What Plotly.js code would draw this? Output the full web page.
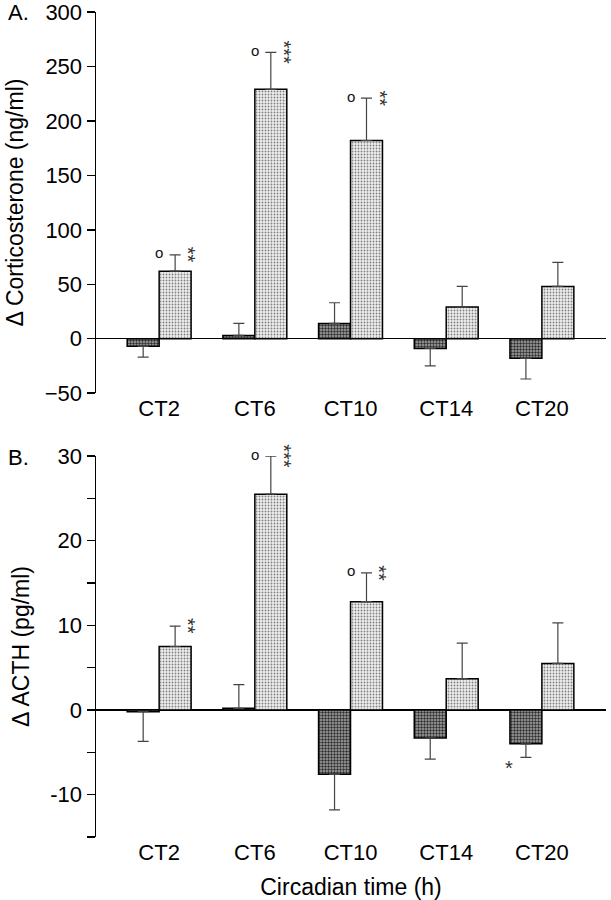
<!DOCTYPE html>
<html><head><meta charset="utf-8">
<script src="https://cdn.plot.ly/plotly-3.0.1.min.js"></script>
<style>body{margin:0;background:#fff}#chart{width:611px;height:900px}</style>
</head><body><div id="chart"></div>
<script>
// ---- data ----
const categories = ['CT2', 'CT6', 'CT10', 'CT14', 'CT20'];
const cortControl = [-7, 3, 14, -9, -18];
const cortControlSE = [10, 11, 19, 16, 19];
const cortTreated = [62, 229, 182, 29, 48];
const cortTreatedSE = [15, 34, 39, 19, 22];
const acthControl = [-0.2, 0.2, -7.6, -3.3, -4];
const acthControlSE = [3.5, 2.8, 4.2, 2.5, 1.6];
const acthTreated = [7.5, 25.5, 12.8, 3.7, 5.5];
const acthTreatedSE = [2.4, 4.5, 3.4, 4.2, 4.8];
const cortCircle = [true, true, true, false, false];
const cortStars = ['**', '***', '**', '', ''];
const acthCircle = [false, true, true, false, false];
const acthStars = ['**', '***', '**', '', ''];
const acthControlStars = ['', '', '', '', '*'];
const yTicksA = [-50, 0, 50, 100, 150, 200, 250, 300];
const yTicksB = [-15, -10, -5, 0, 5, 10, 15, 20, 25, 30];
const yTickTextB = ['', '-10', '', '0', '', '10', '', '20', '', '30'];

// ---- style ----
const FONT = 'Liberation Sans, Arial, Helvetica, sans-serif';
const darkPattern = {shape: '.', bgcolor: '#a8a8a8', fgcolor: '#2e2e2e', size: 3, solidity: 0.5};
const lightPattern = {shape: '.', bgcolor: '#efefef', fgcolor: '#808080', size: 3, solidity: 0.3};

function errs(vals, se) {
  return {
    type: 'data', symmetric: false,
    array: vals.map((v, i) => v >= 0 ? se[i] : 0),
    arrayminus: vals.map((v, i) => v < 0 ? se[i] : 0),
    color: '#444', thickness: 1.2, width: 5.5
  };
}
function bar(vals, se, pattern, xa, ya) {
  return {
    type: 'bar', x: categories, y: vals, xaxis: xa, yaxis: ya,
    marker: {color: pattern.bgcolor, pattern: pattern, line: {color: '#000', width: 1.5}},
    error_y: errs(vals, se), showlegend: false, hoverinfo: 'skip'
  };
}

const data = [
  bar(cortControl, cortControlSE, darkPattern, 'x', 'y'),
  bar(cortTreated, cortTreatedSE, lightPattern, 'x', 'y'),
  bar(acthControl, acthControlSE, darkPattern, 'x2', 'y2'),
  bar(acthTreated, acthTreatedSE, lightPattern, 'x2', 'y2')
];

const annotations = [];
function addMarks(vals, se, circles, stars, xa, ya) {
  vals.forEach((v, i) => {
    const top = v + se[i];
    if (circles[i]) annotations.push({x: i, y: top, xref: xa, yref: ya, text: 'o', showarrow: false,
      font: {family: FONT, size: 15, color: '#111'}, xanchor: 'center', yanchor: 'middle', yshift: 2});
    if (stars[i]) annotations.push({x: i + 0.335, y: top, xref: xa, yref: ya, text: stars[i], showarrow: false,
      textangle: 90, font: {family: FONT, size: 20, color: '#333'}, xanchor: 'center', yanchor: 'middle', xshift: -3, yshift: 0});
  });
}
addMarks(cortTreated, cortTreatedSE, cortCircle, cortStars, 'x', 'y');
addMarks(acthTreated, acthTreatedSE, acthCircle, acthStars, 'x2', 'y2');
acthControl.forEach((v, i) => {
  if (acthControlStars[i]) annotations.push({x: i - 0.34, y: v - acthControlSE[i], xref: 'x2', yref: 'y2',
    text: acthControlStars[i], showarrow: false, font: {family: FONT, size: 20, color: '#333'},
    xanchor: 'center', yanchor: 'top', yshift: 2});
});
annotations.push({text: 'A.', xref: 'paper', yref: 'paper', x: -0.176, y: 0.999, xanchor: 'left', yanchor: 'middle',
  showarrow: false, font: {family: FONT, size: 22, color: '#000'}});
annotations.push({text: 'B.', xref: 'paper', yref: 'paper', x: -0.176, y: 0.4606, xanchor: 'left', yanchor: 'middle',
  showarrow: false, font: {family: FONT, size: 22, color: '#000'}});

const xBase = {type: 'category', range: [-0.66, 4.67], showline: false, ticks: '', showgrid: false, zeroline: false,
  tickfont: {family: FONT, size: 22, color: '#000'}, fixedrange: true};
const yBase = {showline: true, linecolor: '#000', linewidth: 1.5, ticks: 'outside', ticklen: 8, tickwidth: 1.5,
  tickcolor: '#000', showgrid: false, zeroline: true, zerolinecolor: '#000', zerolinewidth: 1.5,
  tickfont: {family: FONT, size: 22, color: '#000'}, automargin: false, ticklabeloverflow: 'allow'};

const layout = {
  width: 611, height: 900, margin: {l: 96, r: 5, t: 12, b: 63},
  paper_bgcolor: '#fff', plot_bgcolor: '#fff',
  barmode: 'group', bargap: 0.332, bargroupgap: 0,
  font: {family: FONT, color: '#000'},
  xaxis: Object.assign({}, xBase, {anchor: 'y', domain: [0, 1]}),
  yaxis: Object.assign({}, yBase, {anchor: 'x', domain: [0.538, 1], range: [-50.01, 300.01], tickvals: yTicksA,
    title: {text: 'Δ Corticosterone (ng/ml)', font: {family: FONT, size: 23}, standoff: 14}}),
  xaxis2: Object.assign({}, xBase, {anchor: 'y2', domain: [0, 1],
    title: {text: 'Circadian time (h)', font: {family: FONT, size: 23}, standoff: 20}}),
  yaxis2: Object.assign({}, yBase, {anchor: 'x2', domain: [0, 0.4618], range: [-15.01, 30.01], tickvals: yTicksB, ticktext: yTickTextB,
    title: {text: 'Δ ACTH (pg/ml)', font: {family: FONT, size: 23}, standoff: 14}}),
  annotations: annotations
};

Plotly.newPlot('chart', data, layout, {staticPlot: true, displayModeBar: false});
</script>
</body></html>
